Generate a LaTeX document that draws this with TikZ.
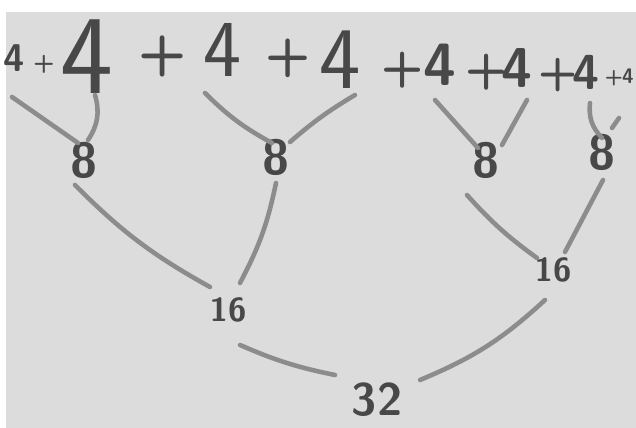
\documentclass[tikz,border=0pt]{standalone}
\usetikzlibrary{positioning, calc, backgrounds}

\definecolor{paper}{HTML}{DCDCDC}
\definecolor{ink}{HTML}{484848}
\definecolor{pencil}{HTML}{8C8C8C}

\begin{document}
\begin{tikzpicture}[
    x=0.02cm, y=-0.02cm,
    line cap=round,
    digit/.style={
        text=ink,
        inner sep=0pt,
        font=\sffamily
    },
    plus/.style={
        digit,
        font=\sffamily
    },
    link/.style={
        draw=pencil,
        line width=2.6pt
    }
]

    % Paper
    \fill[white] (0,0) rectangle (636,428);
    \fill[paper] (6,12) rectangle (636,428);
    \useasboundingbox (0,0) rectangle (636,428);

    % Top row: 4 + 4 + ... + 4
    \node[digit, font=\sffamily\bfseries\fontsize{22}{22}\selectfont] (l1) at (14,58) {4};
    \node[plus, font=\sffamily\bfseries\fontsize{14}{14}\selectfont] (p1) at (44,64) {+};
    \node[digit, font=\sffamily\fontsize{64}{64}\selectfont] (l2) at (87,57) {4};
    \node[plus, font=\sffamily\bfseries\fontsize{32}{32}\selectfont] (p2) at (163,56) {+};
    \node[digit, font=\sffamily\fontsize{46}{46}\selectfont] (l3) at (222,50) {4};
    \node[plus, font=\sffamily\bfseries\fontsize{30}{30}\selectfont] (p3) at (288,58) {+};
    \node[digit, font=\sffamily\fontsize{50}{50}\selectfont] (l4) at (340,60) {4};
    \node[plus, font=\sffamily\bfseries\fontsize{28}{28}\selectfont] (p4) at (403,70) {+};
    \node[digit, font=\sffamily\bfseries\fontsize{34}{34}\selectfont] (l5) at (440,65) {4};
    \node[plus, font=\sffamily\bfseries\fontsize{28}{28}\selectfont] (p5) at (487,72) {+};
    \node[digit, font=\sffamily\bfseries\fontsize{32}{32}\selectfont] (l6) at (517,68) {4};
    \node[plus, font=\sffamily\bfseries\fontsize{26}{26}\selectfont] (p6) at (558,75) {+};
    \node[digit, font=\sffamily\bfseries\fontsize{28}{28}\selectfont] (l7) at (586,72) {4};
    \node[plus, font=\sffamily\bfseries\fontsize{12}{12}\selectfont] (p7) at (614,78) {+};
    \node[digit, font=\sffamily\bfseries\fontsize{12}{12}\selectfont] (l8) at (628,76) {4};

    % Eights
    \node[digit, font=\sffamily\bfseries\fontsize{28}{28}\selectfont] (e1) at (84,160) {8};
    \node[digit, font=\sffamily\bfseries\fontsize{28}{28}\selectfont] (e2) at (276,157) {8};
    \node[digit, font=\sffamily\bfseries\fontsize{28}{28}\selectfont] (e3) at (486,160) {8};
    \node[digit, font=\sffamily\bfseries\fontsize{28}{28}\selectfont] (e4) at (602,152) {8};

    % Sixteens
    \node[digit, font=\sffamily\bfseries\fontsize{19}{19}\selectfont] (s1) at (228,310) {16};
    \node[digit, font=\sffamily\bfseries\fontsize{19}{19}\selectfont] (s2) at (553,270) {16};

    % Total
    \node[digit, font=\sffamily\bfseries\fontsize{26}{26}\selectfont] (t1) at (377,400) {32};

    % 4 + 4 -> 8
    \draw[link] ([shift={(-2,39)}]l1.center) -- ([shift={(-6,-17)}]e1.center);
    \draw[link] ([shift={(8,38)}]l2.center) to[bend left=25] ([shift={(4,-20)}]e1.center);
    \draw[link] ([shift={(-17,43)}]l3.center) to[bend right=8] ([shift={(-4,-14)}]e2.center);
    \draw[link] ([shift={(15,35)}]l4.center) to[bend right=5] ([shift={(14,-15)}]e2.center);
    \draw[link] ([shift={(-5,35)}]l5.center) -- ([shift={(-8,-12)}]e3.center);
    \draw[link] ([shift={(10,32)}]l6.center) -- ([shift={(16,-15)}]e3.center);
    \draw[link] ([shift={(4,31)}]l7.center) to[bend right=25] ([shift={(0,-14)}]e4.center);
    \draw[link] ([shift={(-9,42)}]l8.center) -- ([shift={(10,-24)}]e4.center);

    % 8 + 8 -> 16
    \draw[link] ([shift={(-9,25)}]e1.center) to[bend right=8] ([shift={(-18,-23)}]s1.center);
    \draw[link] ([shift={(0,26)}]e2.center) to[bend left=8] ([shift={(12,-27)}]s1.center);
    \draw[link] ([shift={(-19,35)}]e3.center) to[bend right=6] ([shift={(-16,-12)}]s2.center);
    \draw[link] ([shift={(1,28)}]e4.center) -- ([shift={(12,-18)}]s2.center);

    % 16 + 16 -> 32
    \draw[link] ([shift={(12,35)}]s1.center) to[bend right=6] ([shift={(-42,-25)}]t1.center);
    \draw[link] ([shift={(-8,30)}]s2.center) to[bend left=10] ([shift={(43,-20)}]t1.center);

\end{tikzpicture}
\end{document}
